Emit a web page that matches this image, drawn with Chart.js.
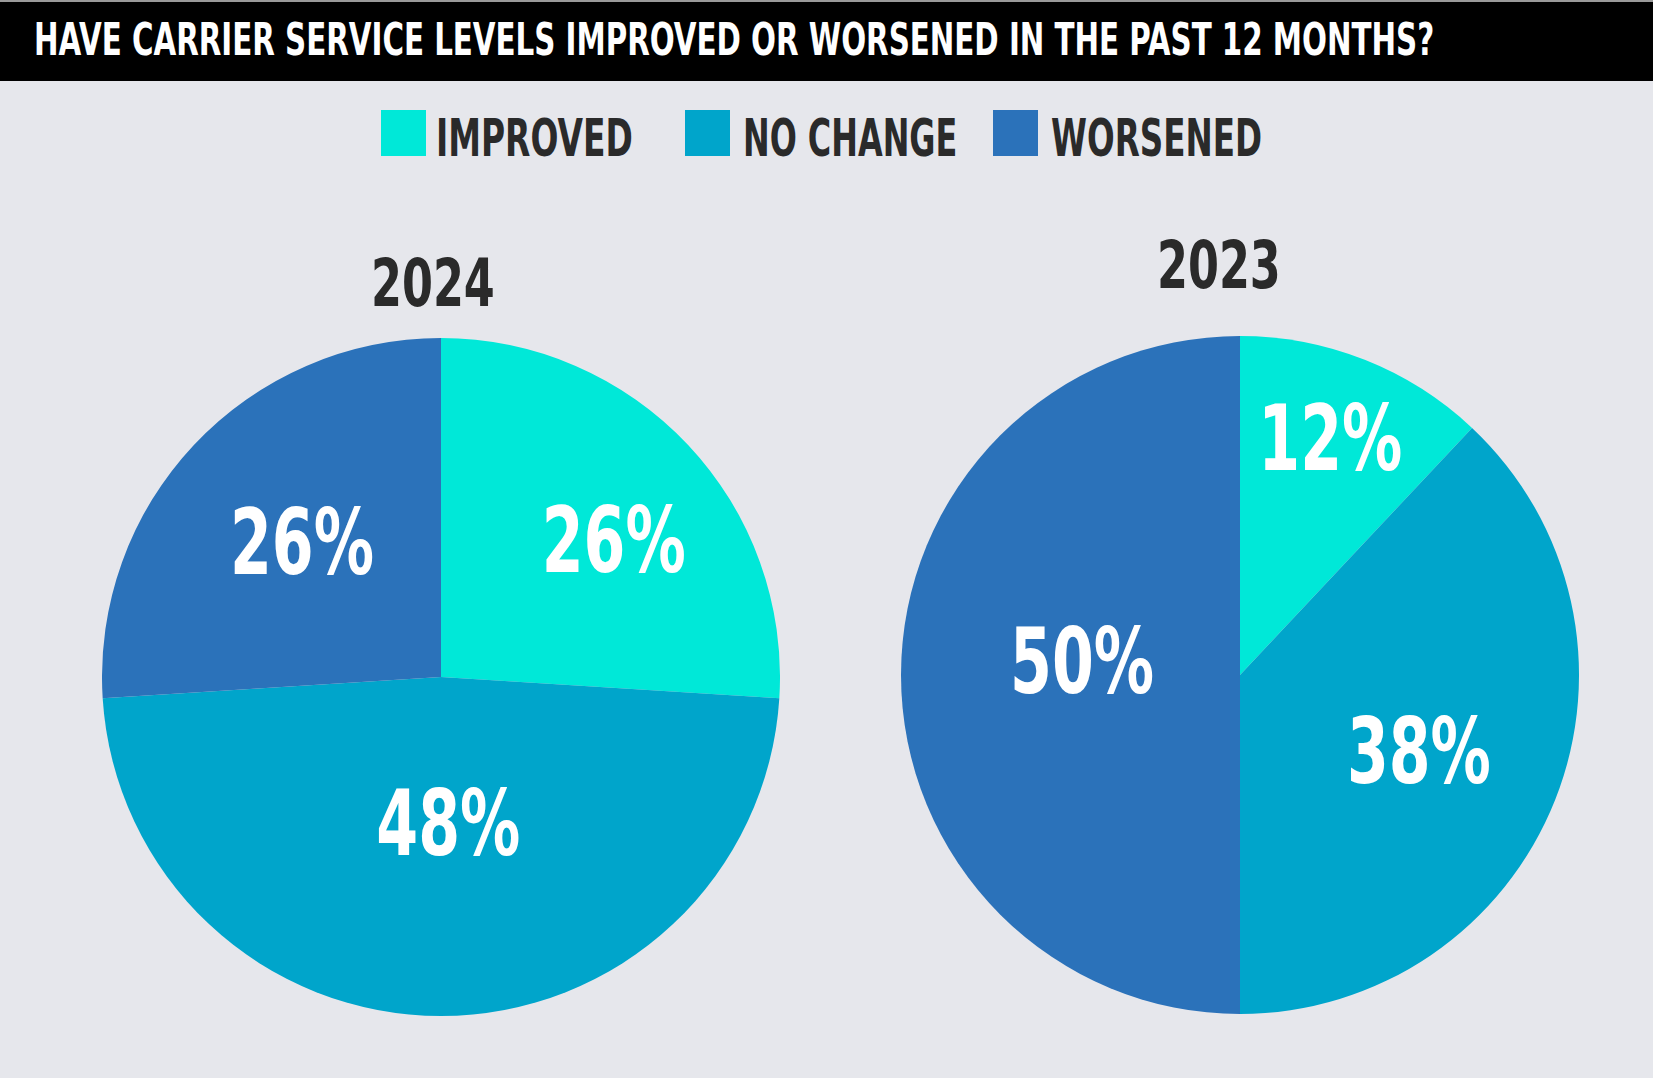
<!DOCTYPE html>
<html>
<head>
<meta charset="utf-8">
<script src="https://cdn.jsdelivr.net/npm/chart.js@4.4.1/dist/chart.umd.min.js"></script>
<style>
  html, body { margin: 0; padding: 0; }
  body {
    width: 1653px; height: 1078px; position: relative; overflow: hidden;
    background: #e6e7ec;
    font-family: 'Liberation Sans Narrow', 'DejaVu Sans Condensed', 'Liberation Sans', sans-serif;
    font-weight: bold;
  }
  .band { position: absolute; left: 0; top: 0; width: 1653px; height: 81px; background: #000; border-top: 2px solid #9a9a9a; box-sizing: border-box; }
  .title { position: absolute; left: 34px; top: 18px; font-size: 44px; line-height: 1; color: #fff; white-space: nowrap; transform-origin: left top; }
  .sw { position: absolute; top: 110px; width: 45px; height: 46px; }
  .lab { position: absolute; top: 112px; font-size: 52px; line-height: 1; color: #2a2a2a; white-space: nowrap; transform-origin: left top; }
  .year { position: absolute; font-size: 65px; line-height: 1; color: #2a2a2a; white-space: nowrap; transform-origin: left top; }
  .pie { position: absolute; width: 678px; height: 678px; }
</style>
</head>
<body>
<div class="band"></div>
<div class="title" id="title">HAVE CARRIER SERVICE LEVELS IMPROVED OR WORSENED IN THE PAST 12 MONTHS?</div>

<div class="sw" style="left:381px; background:#00e8d8"></div>
<div class="lab" id="l0" style="left:436px">IMPROVED</div>
<div class="sw" style="left:685px; background:#00a5cb"></div>
<div class="lab" id="l1" style="left:743px">NO CHANGE</div>
<div class="sw" style="left:993px; background:#2b72ba"></div>
<div class="lab" id="l2" style="left:1051px">WORSENED</div>

<div class="year" id="y0" style="left:371px; top:251px">2024</div>
<div class="year" id="y1" style="left:1157px; top:233px">2023</div>

<div class="pie" style="left:102px; top:338px"><canvas id="pie2024"></canvas></div>
<div class="pie" style="left:901px; top:336px"><canvas id="pie2023"></canvas></div>

<script>
const categories = ['IMPROVED', 'NO CHANGE', 'WORSENED'];
const values2024 = [26, 48, 26];
const values2023 = [12, 38, 50];
const colors = ['#00e8d8', '#00a5cb', '#2b72ba'];

// squeeze text to the widths of the original condensed face
function fitWidth(id, w) {
  const el = document.getElementById(id);
  el.style.transform = 'scaleX(' + (w / el.offsetWidth) + ')';
}
fitWidth('title', 1400);
fitWidth('l0', 197);
fitWidth('l1', 214);
fitWidth('l2', 211);
fitWidth('y0', 124);
fitWidth('y1', 124);

// percent labels inside the slices
const sliceLabels = {
  id: 'sliceLabels',
  afterDatasetsDraw(chart, args, opts) {
    const ctx = chart.ctx;
    const arcs = chart.getDatasetMeta(0).data;
    const vals = chart.data.datasets[0].data;
    ctx.save();
    ctx.fillStyle = '#fff';
    ctx.font = "bold 90px 'Liberation Sans Narrow', 'DejaVu Sans Condensed', sans-serif";
    ctx.textAlign = 'center';
    ctx.textBaseline = 'alphabetic';
    arcs.forEach((arc, i) => {
      const p = arc.getProps(['x', 'y', 'startAngle', 'endAngle', 'outerRadius'], true);
      const mid = (p.startAngle + p.endAngle) / 2 + opts.shift[i] * Math.PI / 180;
      const r = p.outerRadius * opts.radius[i];
      const x = p.x + Math.cos(mid) * r;
      const y = p.y + Math.sin(mid) * r;
      const txt = vals[i] + '%';
      const w = ctx.measureText(txt).width;
      ctx.save();
      ctx.translate(x, y + 33);
      ctx.scale(144 / w, 1);
      ctx.fillText(txt, 0, 0);
      ctx.restore();
    });
    ctx.restore();
  }
};

function makePie(id, values, radius, shift) {
  return new Chart(document.getElementById(id).getContext('2d'), {
    type: 'pie',
    data: {
      labels: categories,
      datasets: [{
        data: values,
        backgroundColor: colors,
        borderWidth: 0,
        hoverOffset: 0
      }]
    },
    options: {
      responsive: true,
      maintainAspectRatio: false,
      animation: false,
      layout: { padding: 0 },
      plugins: {
        legend: { display: false },
        tooltip: { enabled: false },
        sliceLabels: { radius: radius, shift: shift }
      }
    },
    plugins: [sliceLabels]
  });
}

makePie('pie2024', values2024, [0.652, 0.429, 0.573], [4.6, -2.9, 1.1]);
makePie('pie2023', values2023, [0.75, 0.572, 0.468], [-0.8, 1.1, 5.3]);
</script>
</body>
</html>
